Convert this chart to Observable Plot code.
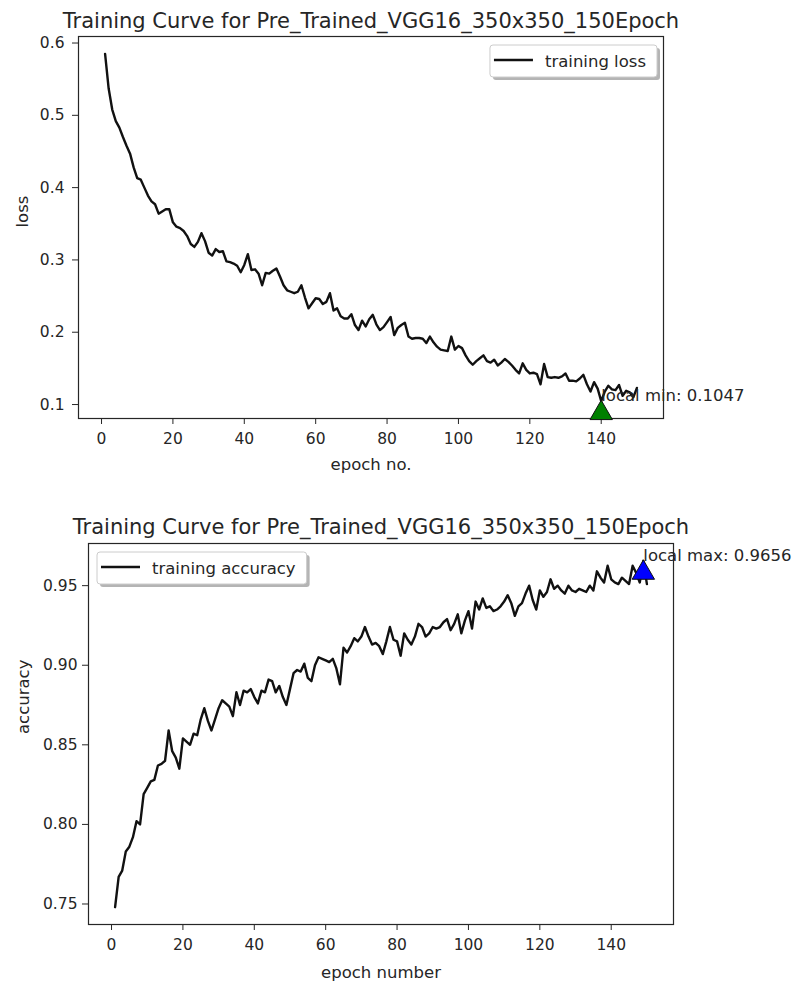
<!DOCTYPE html>
<html><head><meta charset="utf-8">
<script src="https://cdn.jsdelivr.net/npm/d3@7"></script>
<script src="https://cdn.jsdelivr.net/npm/@observablehq/plot@0.6"></script>
<style>
body{margin:0;background:#fff;}
#c svg{display:block;}
</style></head><body><div id="c"></div>
<script>
const epochs = d3.range(1, 151);
const lossValues = [
0.585,0.537,0.508,0.492,0.483,0.470,0.458,0.447,0.428,0.413,
0.411,0.400,0.389,0.381,0.377,0.364,0.367,0.370,0.370,0.352,
0.346,0.344,0.340,0.333,0.322,0.318,0.325,0.337,0.326,0.310,
0.306,0.315,0.311,0.312,0.298,0.297,0.295,0.292,0.283,0.293,
0.308,0.286,0.287,0.281,0.265,0.282,0.281,0.285,0.288,0.277,
0.265,0.258,0.256,0.254,0.256,0.265,0.248,0.233,0.240,0.247,
0.246,0.239,0.242,0.254,0.230,0.233,0.222,0.219,0.219,0.225,
0.210,0.203,0.216,0.208,0.218,0.224,0.211,0.203,0.207,0.214,
0.221,0.196,0.206,0.210,0.213,0.194,0.191,0.192,0.192,0.191,
0.185,0.194,0.186,0.180,0.176,0.175,0.174,0.194,0.176,0.181,
0.178,0.168,0.160,0.155,0.160,0.164,0.168,0.160,0.158,0.162,
0.154,0.158,0.163,0.159,0.154,0.148,0.143,0.157,0.148,0.143,
0.144,0.142,0.128,0.156,0.138,0.137,0.138,0.137,0.139,0.143,
0.133,0.133,0.132,0.136,0.141,0.128,0.118,0.131,0.122,0.1047,
0.118,0.126,0.121,0.120,0.127,0.112,0.119,0.117,0.110,0.123];
const accValues = [
0.748,0.767,0.771,0.783,0.786,0.792,0.802,0.800,0.819,0.823,
0.827,0.828,0.837,0.838,0.840,0.859,0.846,0.842,0.835,0.854,
0.852,0.850,0.857,0.856,0.866,0.873,0.865,0.859,0.866,0.873,
0.878,0.876,0.874,0.868,0.883,0.875,0.884,0.883,0.885,0.880,
0.876,0.884,0.883,0.891,0.890,0.883,0.887,0.880,0.875,0.885,
0.895,0.897,0.896,0.901,0.892,0.890,0.900,0.905,0.904,0.903,
0.902,0.904,0.898,0.888,0.911,0.908,0.912,0.917,0.915,0.918,
0.924,0.918,0.913,0.914,0.912,0.907,0.915,0.924,0.916,0.915,
0.906,0.920,0.916,0.913,0.918,0.926,0.924,0.918,0.920,0.924,
0.923,0.924,0.927,0.929,0.922,0.926,0.932,0.920,0.928,0.934,
0.923,0.940,0.935,0.942,0.936,0.937,0.934,0.935,0.937,0.940,
0.944,0.939,0.931,0.937,0.939,0.945,0.950,0.941,0.935,0.947,
0.943,0.946,0.954,0.948,0.950,0.947,0.945,0.950,0.947,0.946,
0.948,0.947,0.946,0.950,0.947,0.959,0.955,0.952,0.9625,0.954,
0.952,0.951,0.955,0.953,0.951,0.9625,0.958,0.952,0.9656,0.951];
const xTicks = [0, 20, 40, 60, 80, 100, 120, 140];
const lossTicks = [0.1, 0.2, 0.3, 0.4, 0.5, 0.6];
const accTicks = [0.75, 0.80, 0.85, 0.90, 0.95];
const titleText = "Training Curve for Pre_Trained_VGG16_350x350_150Epoch";
const lossMin = {epoch: 140, value: 0.1047, label: "local min: 0.1047"};
const accMax = {epoch: 149, value: 0.9656, label: "local max: 0.9656"};

const TXT = "#262626";
const container = document.getElementById("c");

function chart(o) {
  const data = epochs.map((e, i) => ({epoch: e, value: o.values[i]}));
  const [lo, hi] = d3.extent(o.values);
  const pad = (hi - lo) * 0.05;
  const xr = epochs[epochs.length - 1] - epochs[0];
  const svg = Plot.plot({
    width: 804, height: o.h,
    marginLeft: o.ml, marginRight: o.mr, marginTop: o.mt, marginBottom: o.mb,
    style: {fontFamily: "DejaVu Sans, sans-serif", fontSize: "15.5px", color: TXT, background: "white", overflow: "visible"},
    x: {domain: [epochs[0] - xr * 0.05, epochs[epochs.length - 1] + xr * 0.05]},
    y: {domain: [lo - pad, hi + pad]},
    marks: [
      Plot.axisX({ticks: xTicks, tickSize: 6, tickPadding: 8, label: null}),
      Plot.axisY({ticks: o.ticks, tickFormat: o.fmt, tickSize: 6, tickPadding: o.tp, label: null}),
      Plot.line(data, {x: "epoch", y: "value", stroke: "#111", strokeWidth: 2.4}),
      Plot.frame({stroke: TXT, strokeWidth: 1.2}),
      Plot.dot([o.ann], {x: "epoch", y: "value", symbol: "triangle", r: 8.3, fill: o.color, stroke: "#111", strokeWidth: 1, dy: 12}),
      Plot.text([o.ann], {x: "epoch", y: "value", text: "label", textAnchor: "start", lineAnchor: "bottom", fontSize: 16.5, fill: TXT}),
      Plot.text([titleText], {frameAnchor: "top", lineAnchor: "bottom", dy: o.tdy, fontSize: 21, text: d => d, fill: TXT}),
      Plot.text([o.xlabel], {frameAnchor: "bottom", lineAnchor: "bottom", dy: o.xdy, fontSize: 16.5, text: d => d, fill: TXT}),
      Plot.text([o.ylabel], {frameAnchor: "left", rotate: -90, lineAnchor: "bottom", dx: o.ydx, fontSize: 16.5, text: d => d, fill: TXT})
    ]
  });
  container.appendChild(svg);
  // legend
  const g = d3.select(svg).append("g").attr("font-family", "DejaVu Sans, sans-serif").attr("text-anchor", "start");
  const sh = g.append("rect");
  const box = g.append("rect");
  const ln = g.append("line");
  const tx = g.append("text").text(o.legend).attr("font-size", 16.5).attr("fill", TXT).attr("text-anchor", "start");
  const tw = tx.node().getComputedTextLength();
  const bw = 55 + tw + 11, bh = 32;
  const bx = o.legendRight ? 804 - o.mr - 6 - bw : o.ml + 9;
  const by = o.mt + 9;
  sh.attr("x", bx + 3).attr("y", by + 3).attr("width", bw).attr("height", bh).attr("rx", 3).attr("fill", "#777").attr("opacity", 0.55);
  box.attr("x", bx).attr("y", by).attr("width", bw).attr("height", bh).attr("rx", 3).attr("fill", "white").attr("stroke", "#ccc");
  ln.attr("x1", bx + 4).attr("x2", bx + 43).attr("y1", by + 15).attr("y2", by + 15).attr("stroke", "#111").attr("stroke-width", 2.4);
  tx.attr("x", bx + 55).attr("y", by + 22);
}

chart({values: lossValues, ticks: lossTicks, fmt: d => d.toFixed(1), ylabel: "loss", xlabel: "epoch no.",
  legend: "training loss", legendRight: true, ann: lossMin, color: "green",
  h: 490, ml: 78, mr: 141, mt: 36, mb: 72, tp: 8, tdy: -9, xdy: 51, ydx: -51});
chart({values: accValues, ticks: accTicks, fmt: d => d.toFixed(2), ylabel: "accuracy", xlabel: "epoch number",
  legend: "training accuracy", legendRight: false, ann: accMax, color: "blue",
  h: 494, ml: 88, mr: 131, mt: 53, mb: 60, tp: 5, tdy: -10, xdy: 53, ydx: -60});
</script></body></html>
